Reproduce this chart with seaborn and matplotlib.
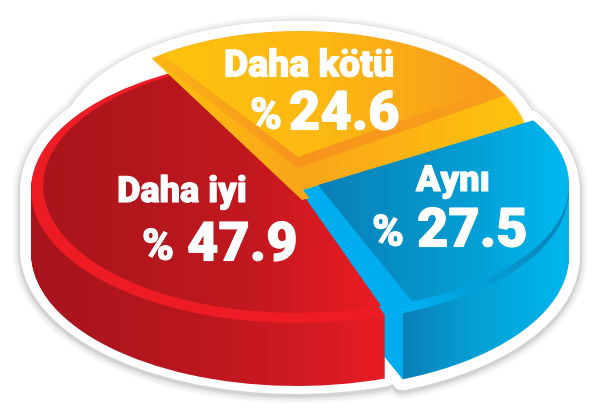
import numpy as np
import matplotlib
matplotlib.use("Agg")
import matplotlib.pyplot as plt
import matplotlib.patheffects as pe
import seaborn as sns

categories = ["Daha kötü", "Daha iyi", "Aynı"]
shares = [24.6, 47.9, 27.5]
share_labels = ["24.6", "47.9", "27.5"]

sns.set_theme(style="white")
plt.rcParams["font.family"] = ["Roboto", "DejaVu Sans"]

W, H = 600, 415
SX, SY = 270.0, 135.0   # pixels per pie radius, across and down
DEPTH = 63
BLUE_DEPTH = 66
YELLOW, RED, BLUE = 0, 1, 2


def dx(px):
    return (px - 300) / SX


def dy(py):
    return (187 - py) / SY


fig = plt.figure(figsize=(W / 100, H / 100), dpi=100)
ax = fig.add_axes([0, 0, 1, 1])
ax.set_facecolor("white")
EXTENT = (dx(0), dx(W), dy(H), dy(0))


def pie_at(idx, cx, cy, radius, start, **wedgeprops):
    # start is the angle where slice idx begins, the other slices are dropped
    first = start - 3.6 * sum(shares[:idx])
    wedges, _ = ax.pie(shares, center=(dx(cx), dy(cy)), radius=radius, startangle=first,
                       wedgeprops=wedgeprops)
    for i, w in enumerate(wedges):
        if i != idx:
            w.remove()
    return wedges[idx]


def ramp(*stops):
    # stops are (x pixel, colour), returns one row of 600 colours
    row = np.zeros((W, 3))
    row[:] = matplotlib.colors.to_rgb(stops[0][1])
    for (x0, c0), (x1, c1) in zip(stops, stops[1:]):
        n = max(int(x1 - x0), 2)
        row[int(x0):int(x0) + n] = sns.blend_palette([c0, c1], n)
    row[int(stops[-1][0]):] = matplotlib.colors.to_rgb(stops[-1][1])
    return row[np.newaxis, :, :]


def paint(row, idx, cx, cy, radius, start, zorder=2):
    wedge = pie_at(idx, cx, cy, radius, start, facecolor="none", linewidth=0)
    im = ax.imshow(row, extent=EXTENT, aspect="auto", interpolation="nearest", zorder=zorder)
    im.set_clip_path(wedge)


def paint_masked(row, idx, cx, cy, start, disk):
    # wedge from the apex, trimmed by the disk of the back slice
    wedge = pie_at(idx, cx, cy, 1.6, start, facecolor="none", linewidth=0)
    xs = np.linspace(EXTENT[0], EXTENT[1], W * 2)
    ys = np.linspace(EXTENT[3], EXTENT[2], H * 2)
    xx, yy = np.meshgrid(xs, ys)
    dist = np.hypot(xx - dx(disk[0]), yy - dy(disk[1]))
    alpha = np.clip((disk[2] - dist) * 120, 0, 1)
    rgba = np.dstack([np.repeat(np.repeat(row, H * 2, axis=0), 2, axis=1), alpha])
    im = ax.imshow(rgba, extent=EXTENT, aspect="auto", zorder=2)
    im.set_clip_path(wedge)


RED_C = (297, 190, 0.985, 116.9)
BLUE_C = (303, 190, 0.985, 292)
YEL_DISK = (300, 147, 0.855)

# sticker outline and its soft grey edge
for extra, grey in [(14, "#f6f6f6"), (10, "#eeeeee"), (6, "#e2e2e2"), (3, "#d2d2d2"), (0, "white")]:
    lw = (22 + extra) * 72 / 100
    props = dict(facecolor=grey, edgecolor=grey, linewidth=lw, joinstyle="round", zorder=1)
    shift = 2 if extra else 0
    for off in range(0, DEPTH + 1, 6):
        pie_at(RED, RED_C[0], RED_C[1] + off + shift, RED_C[2], RED_C[3], **props)
    for off in range(0, BLUE_DEPTH + 1, 6):
        pie_at(BLUE, BLUE_C[0], BLUE_C[1] + off + shift, BLUE_C[2], BLUE_C[3], **props)
    ax.pie(shares, center=(dx(YEL_DISK[0]), dy(YEL_DISK[1] + shift)), radius=YEL_DISK[2], wedgeprops=props)

# blue side, with the bright cut face left of the outer corner
blue_side = ramp((0, "#00aeef"), (402, "#00aeef"), (403, "#0b7fb6"), (475, "#06a0d6"), (569, "#00b6ee"))
for off in range(BLUE_DEPTH, 0, -1):
    paint(blue_side, BLUE, BLUE_C[0], BLUE_C[1] + off, BLUE_C[2], BLUE_C[3])

# red side and top
red_side = ramp((30, "#a6141c"), (200, "#bb171f"), (300, "#d01a22"), (382, "#e81c24"))
for off in range(DEPTH, 0, -1):
    paint(red_side, RED, RED_C[0], RED_C[1] + off, RED_C[2], RED_C[3])
paint(ramp((0, "#ed1c24"), (600, "#ed1c24")), RED, *RED_C)
paint(ramp((40, "#a8151c"), (250, "#c2181f"), (370, "#e81c24")), RED,
      RED_C[0], RED_C[1] - 4, 0.94, RED_C[3])

# yellow sits at the back but its left edge cuts the red top
paint_masked(ramp((140, "#ffc20e"), (300, "#f9a61a"), (520, "#ffc20e")), YELLOW, 302, 200, 29.4, YEL_DISK)
paint_masked(ramp((150, "#fbb515"), (300, "#f7941d"), (510, "#f9a01b")), YELLOW, 298, 168, 35, YEL_DISK)
paint_masked(ramp((150, "#ffc20e"), (320, "#fdb913"), (510, "#f8991d")), YELLOW, 298, 157, 35, YEL_DISK)

# blue top
paint(ramp((0, "#00aeef"), (420, "#00aeef"), (500, "#059ad0"), (569, "#0a80b5")), BLUE, *BLUE_C)
paint(ramp((315, "#0a7fb5"), (440, "#0597cd"), (560, "#00b6ee")), BLUE, 318, 185, 0.93, BLUE_C[3])

# labels
lab = dict(color="white", fontweight="black", zorder=5, va="center",
           path_effects=[pe.withStroke(linewidth=0.8, foreground="white")])
ax.text(dx(309), dy(66), categories[0], fontsize=27, ha="center", **lab)
ax.text(dx(182), dy(192), categories[1], fontsize=26, ha="center", **lab)
ax.text(dx(453), dy(181), categories[2], fontsize=26, ha="center", **lab)
for name, xp, xn, y in [(share_labels[0], 266, 289, 115), (share_labels[1], 158, 187, 246), (share_labels[2], 388, 417, 232)]:
    ax.text(dx(xp), dy(y + 2), "%", fontsize=31, ha="center", **lab)
    ax.text(dx(xn), dy(y), name, fontsize=39, ha="left", **lab)

ax.set_aspect("auto")
ax.set_xlim(EXTENT[0], EXTENT[1])
ax.set_ylim(EXTENT[2], EXTENT[3])
ax.axis("off")
fig.savefig("out.png", dpi=100, facecolor="white")
